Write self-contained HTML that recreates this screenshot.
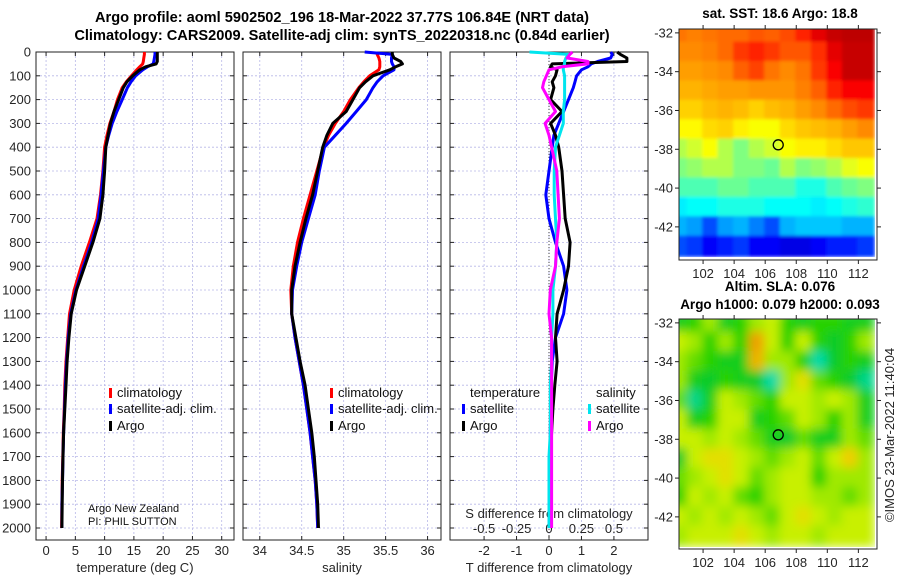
<!DOCTYPE html>
<html><head><meta charset="utf-8">
<style>
html,body{margin:0;padding:0;background:#fff;}
svg{display:block;font-family:"Liberation Sans",sans-serif;}
</style></head>
<body>
<svg id="chart" width="900" height="580" viewBox="0 0 900 580" xmlns="http://www.w3.org/2000/svg">
<defs>
<filter id="blurS" x="0" y="0" width="1" height="1"><feGaussianBlur stdDeviation="1.5"/></filter>
<filter id="blurL" x="0" y="0" width="1" height="1"><feGaussianBlur stdDeviation="5"/></filter>
<clipPath id="clipTop"><rect x="679" y="29" width="198" height="231"/></clipPath>
<clipPath id="clipBot"><rect x="679" y="319" width="198" height="230"/></clipPath>
</defs>
<text x="342" y="22" text-anchor="middle" font-size="14.6" font-weight="bold">Argo profile: aoml 5902502_196 18-Mar-2022 37.77S 106.84E (NRT data)</text>
<text x="342" y="40" text-anchor="middle" font-size="14.6" font-weight="bold">Climatology: CARS2009. Satellite-adj clim: synTS_20220318.nc (0.84d earlier)</text>
</svg>
<script>
// ---- data ----
const depths = [0,10,25,40,50,62,75,100,125,150,200,250,300,350,400,500,600,700,800,900,1000,1100,1200,1300,1400,1500,1600,1700,1800,1900,2000];
const tempArgo = [19.0,19.0,19.0,19.0,18.8,17.0,16.0,14.8,13.8,13.2,12.4,11.6,11.0,10.6,10.2,10.0,9.7,9.2,8.0,6.6,5.2,4.3,3.9,3.6,3.4,3.2,3.0,2.9,2.8,2.75,2.7];
const tempClim = [16.8,16.8,16.7,16.6,16.5,16.0,15.5,14.6,13.7,13.0,12.2,11.6,10.9,10.4,10.0,9.7,9.3,8.7,7.4,6.0,4.8,4.0,3.7,3.4,3.2,3.1,2.95,2.85,2.75,2.7,2.65];
const tempSat = [18.6,18.6,18.5,18.4,18.3,17.3,16.5,15.3,14.5,13.9,13.0,12.1,11.3,10.7,10.2,9.8,9.4,8.9,7.8,6.4,5.1,4.2,3.8,3.5,3.3,3.15,3.0,2.9,2.8,2.7,2.7];
const salArgo = [35.58,35.58,35.60,35.68,35.70,35.62,35.55,35.35,35.26,35.19,35.11,35.03,34.87,34.80,34.75,34.69,34.63,34.55,34.48,34.42,34.38,34.38,34.43,34.48,34.54,34.58,34.62,34.65,34.67,34.69,34.70];
const salClim = [35.40,35.40,35.42,35.43,35.43,35.43,35.42,35.31,35.24,35.18,35.08,35.00,34.90,34.82,34.76,34.68,34.60,34.52,34.45,34.40,34.37,34.38,34.42,34.47,34.52,34.56,34.60,34.63,34.66,34.68,34.69];
const salSat = [35.25,35.58,35.57,35.57,35.58,35.60,35.60,35.47,35.40,35.35,35.27,35.15,35.03,34.90,34.77,34.71,34.66,34.58,34.50,34.44,34.39,34.38,34.42,34.47,34.52,34.56,34.60,34.63,34.66,34.68,34.69];
const tDiffSat = [1.9,1.95,1.9,1.5,1.3,1.2,1.0,0.85,0.8,0.75,0.6,0.45,0.3,0.15,0.1,0.0,-0.1,0.0,0.2,0.45,0.55,0.45,0.2,0.1,0.07,0.05,0.04,0.03,0.03,0.02,0.02];
const tDiffArgo = [2.1,2.2,2.4,2.4,0.1,0.05,0.25,0.2,0.1,0.15,0.05,0.4,0.05,0.2,0.3,0.4,0.45,0.5,0.65,0.6,0.45,0.25,0.2,0.25,0.18,0.12,0.08,0.05,0.04,0.03,0.03];
const sDiffSat = [-0.15,0.15,0.13,0.12,0.12,0.11,0.11,0.12,0.12,0.12,0.12,0.11,0.11,0.08,0.05,0.04,0.04,0.05,0.06,0.05,0.03,0.03,0.02,0.02,0.01,0.01,0.01,0.0,0.0,0.0,0.0];
const sDiffArgo = [0.18,0.16,0.14,0.3,0.3,0.1,0.0,-0.02,-0.04,-0.05,0.0,0.05,-0.03,0.0,0.02,0.06,0.07,0.08,0.06,0.05,0.01,0.0,0.02,0.02,0.02,0.02,0.02,0.02,0.02,0.02,0.02];
const depthTicks = [0,100,200,300,400,500,600,700,800,900,1000,1100,1200,1300,1400,1500,1600,1700,1800,1900,2000];
const tempTicks = [0,5,10,15,20,25,30];
const salTicks = [34,34.5,35,35.5,36];
const tDiffTicks = [-2,-1,0,1,2];
const sDiffTicks = [-0.5,-0.25,0,0.25,0.5];
const lonTicks = [102,104,106,108,110,112];
const latTicks = [-32,-34,-36,-38,-40,-42];
const floatLon = 106.84, floatLat = -37.77;
const sstGrid = [
[0.76,0.75,0.76,0.77,0.77,0.79,0.78,0.80,0.84,0.90,0.93,0.94,0.94],
[0.74,0.74,0.75,0.77,0.82,0.84,0.82,0.79,0.79,0.83,0.90,0.93,0.93],
[0.72,0.72,0.73,0.74,0.78,0.81,0.76,0.74,0.76,0.82,0.88,0.93,0.93],
[0.70,0.70,0.71,0.72,0.72,0.73,0.73,0.73,0.75,0.78,0.84,0.88,0.88],
[0.67,0.67,0.69,0.70,0.69,0.67,0.69,0.70,0.72,0.74,0.77,0.80,0.82],
[0.63,0.63,0.66,0.67,0.64,0.62,0.62,0.66,0.68,0.69,0.70,0.72,0.74],
[0.55,0.58,0.62,0.55,0.50,0.55,0.58,0.62,0.64,0.64,0.66,0.68,0.68],
[0.50,0.52,0.55,0.55,0.50,0.50,0.48,0.55,0.50,0.52,0.55,0.60,0.62],
[0.45,0.45,0.45,0.48,0.48,0.45,0.45,0.45,0.40,0.40,0.45,0.48,0.50],
[0.36,0.38,0.38,0.40,0.40,0.40,0.38,0.38,0.38,0.36,0.38,0.40,0.42],
[0.30,0.28,0.20,0.28,0.30,0.25,0.20,0.30,0.32,0.32,0.32,0.30,0.30],
[0.20,0.18,0.12,0.15,0.18,0.12,0.12,0.10,0.10,0.12,0.15,0.15,0.18]];
const slaGrid = [
[0.49,0.52,0.58,0.49,0.52,0.58,0.60,0.52,0.49,0.52,0.52,0.49,0.49],
[0.60,0.58,0.52,0.58,0.52,0.72,0.60,0.52,0.60,0.52,0.47,0.52,0.58],
[0.58,0.55,0.52,0.49,0.49,0.70,0.58,0.58,0.52,0.38,0.47,0.52,0.49],
[0.58,0.49,0.47,0.52,0.49,0.47,0.38,0.58,0.64,0.55,0.52,0.47,0.40],
[0.55,0.40,0.49,0.60,0.58,0.55,0.52,0.60,0.60,0.58,0.60,0.58,0.49],
[0.60,0.49,0.52,0.60,0.60,0.49,0.52,0.55,0.60,0.58,0.52,0.58,0.49],
[0.60,0.60,0.58,0.60,0.58,0.55,0.49,0.47,0.55,0.49,0.49,0.58,0.55],
[0.47,0.60,0.64,0.64,0.60,0.58,0.55,0.58,0.60,0.55,0.60,0.67,0.58],
[0.55,0.58,0.60,0.64,0.60,0.55,0.58,0.60,0.60,0.52,0.58,0.58,0.58],
[0.52,0.60,0.58,0.60,0.55,0.52,0.58,0.60,0.60,0.58,0.58,0.55,0.58],
[0.60,0.58,0.60,0.58,0.60,0.58,0.55,0.60,0.64,0.60,0.58,0.60,0.60],
[0.58,0.60,0.60,0.60,0.64,0.60,0.58,0.60,0.60,0.58,0.60,0.60,0.60]];

const NS='http://www.w3.org/2000/svg';
const svg=document.getElementById('chart');
function mk(tag,attrs,parent){const e=document.createElementNS(NS,tag);for(const k in attrs)e.setAttribute(k,attrs[k]);(parent||svg).appendChild(e);return e;}
const TOP=52, BOT=540;
const yD = d => TOP + d*0.238;

function panel(name,x0,x1,xmin,xmax,ticks,fmt,xlabel,showY){
  const sx = v => x0 + (v-xmin)/(xmax-xmin)*(x1-x0);
  const g=mk('g',{});
  
  
  ticks.forEach(t=>{const l=mk('line',{x1:sx(t),x2:sx(t),y1:TOP,y2:BOT,stroke:'#b8b8e8','stroke-width':0.8,'stroke-dasharray':'2,2'},g);
    });
  depthTicks.forEach(d=>{const l=mk('line',{x1:x0,x2:x1,y1:yD(d),y2:yD(d),stroke:'#b8b8e8','stroke-width':0.8,'stroke-dasharray':'2,2'},g);
    });
  ticks.forEach(t=>{mk('line',{x1:sx(t),x2:sx(t),y1:BOT,y2:BOT-4,stroke:'#222'},g);mk('line',{x1:sx(t),x2:sx(t),y1:TOP,y2:TOP+4,stroke:'#222'},g);
    if(fmt){const tx=mk('text',{x:sx(t),y:555,'text-anchor':'middle','font-size':13,fill:'#262626'},g);tx.textContent=fmt(t);
    }});
  depthTicks.forEach(d=>{mk('line',{x1:x0,x2:x0+4,y1:yD(d),y2:yD(d),stroke:'#222'},g);mk('line',{x1:x1,x2:x1-4,y1:yD(d),y2:yD(d),stroke:'#222'},g);
    if(showY){const tx=mk('text',{x:31,y:yD(d)+4.5,'text-anchor':'end','font-size':13,fill:'#262626'},g);tx.textContent=d;
    }});
  const fr=mk('rect',{x:x0,y:TOP,width:x1-x0,height:BOT-TOP,fill:'none',stroke:'#222','stroke-width':1},g);
  
  if(xlabel){const tx=mk('text',{x:(x0+x1)/2,y:572,'text-anchor':'middle','font-size':13,fill:'#262626'},g);tx.textContent=xlabel;
    }
  return sx;
}
function line(sx,vals,color,w,name){
  const pts=vals.map((v,i)=>sx(v).toFixed(1)+','+yD(depths[i]).toFixed(1)).join(' ');
  const p=mk('polyline',{points:pts,fill:'none',stroke:color,'stroke-width':w,'stroke-linejoin':'round'});
  
  
}
function legend(x,y,color,label,name){
  const r=mk('rect',{x:x,y:y-9,width:3,height:10,fill:color});
  
  const t=mk('text',{x:x+8,y:y,'font-size':13,fill:'#111'});t.textContent=label;
  
}

const sxT=panel('temperature',36,234,-1.72,32.1,tempTicks,t=>t,'temperature (deg C)',true);
line(sxT,tempClim,'#ff0000',3,'temperature-climatology-line');
line(sxT,tempSat,'#0000ff',3,'temperature-satellite-line');
line(sxT,tempArgo,'#000000',3,'temperature-argo-line');
legend(109,397,'#ff0000','climatology','climatology');
legend(109,413,'#0000ff','satellite-adj. clim.','satellite-adj');
legend(109,430,'#000000','Argo','argo');
let t1=mk('text',{x:88,y:512,'font-size':11,fill:'#111'});t1.textContent='Argo New Zealand';

let t2=mk('text',{x:88,y:525,'font-size':11,fill:'#111'});t2.textContent='PI: PHIL SUTTON';


const sxS=panel('salinity',243,441,33.8,36.16,salTicks,t=>t,'salinity',false);
line(sxS,salClim,'#ff0000',3,'salinity-climatology-line');
line(sxS,salSat,'#0000ff',3,'salinity-satellite-line');
line(sxS,salArgo,'#000000',3,'salinity-argo-line');
legend(330,397,'#ff0000','climatology','sal-climatology');
legend(330,413,'#0000ff','satellite-adj. clim.','sal-satellite-adj');
legend(330,430,'#000000','Argo','sal-argo');

const sxD=panel('difference',450,648,-3.05,3.05,tDiffTicks,t=>t,'T difference from climatology',false);
const sxSd = v => sxD(v*4);
const zl=mk('line',{x1:sxD(0),x2:sxD(0),y1:TOP,y2:BOT,stroke:'#444','stroke-width':1,'stroke-dasharray':'1,2'});

sDiffTicks.forEach(t=>{const tx=mk('text',{x:sxSd(t),y:533,'text-anchor':'middle','font-size':13,fill:'#262626'});tx.textContent=t;
  });
let sl=mk('text',{x:549,y:518,'text-anchor':'middle','font-size':13,fill:'#262626'});sl.textContent='S difference from climatology';

line(sxD,tDiffSat,'#0000ff',3,'t-diff-satellite-line');
line(sxD,tDiffArgo,'#000000',3,'t-diff-argo-line');
line(sxSd,sDiffSat,'#00e5ee',3,'s-diff-satellite-line');
line(sxSd,sDiffArgo,'#ff00ff',3,'s-diff-argo-line');
let lt=mk('text',{x:470,y:397,'font-size':13,fill:'#111'});lt.textContent='temperature';

legend(462,413,'#0000ff','satellite','t-diff-satellite');
legend(462,430,'#000000','Argo','t-diff-argo');
let ls=mk('text',{x:596,y:397,'font-size':13,fill:'#111'});ls.textContent='salinity';

legend(588,413,'#00e5ee','satellite','s-diff-satellite');
legend(588,430,'#ff00ff','Argo','s-diff-argo');

function jet(v){const c=x=>Math.round(255*Math.max(0,Math.min(1,x)));
  return 'rgb('+c(1.5-Math.abs(4*v-3))+','+c(1.5-Math.abs(4*v-2))+','+c(1.5-Math.abs(4*v-1))+')';}
const slaStops=[[0.35,[0,225,215]],[0.45,[0,200,60]],[0.52,[40,210,0]],[0.6,[200,240,0]],[0.66,[240,215,0]],[0.74,[240,140,0]]];
function slaCmap(v){
  if(v<=slaStops[0][0])return 'rgb('+slaStops[0][1].join(',')+')';
  for(let i=1;i<slaStops.length;i++){const a=slaStops[i-1],b=slaStops[i];
    if(v<=b[0]){const f=(v-a[0])/(b[0]-a[0]);return 'rgb('+a[1].map((c,k)=>Math.round(c+(b[1][k]-c)*f)).join(',')+')';}}
  return 'rgb('+slaStops[slaStops.length-1][1].join(',')+')';
}
function map(name,y0,y1,grid,filter,cmap,title1,title2){
  const x0=679,x1=877,lonMin=100.45,lonMax=113.2,latTop=-31.8;
  const px=(x1-x0)/(lonMax-lonMin), py=19.4;
  const sx=lon=>x0+(lon-lonMin)*px, sy=lat=>y0+(latTop-lat)*py;
  const g=mk('g',{'clip-path':'url(#'+(y0===29?'clipTop':'clipBot')+')'});
  
  const gi=mk('g',{filter:'url(#'+filter+')'},g);
  grid.forEach((row,r)=>row.forEach((v,c)=>{
    const lon=100.5+c, lat=-32-r;
    const cell=mk('rect',{x:sx(lon-0.5)-1,y:sy(lat+0.5)-1,width:px+2,height:py+2,fill:cmap(v)},gi);
    
  }));
  const fr=mk('rect',{x:x0,y:y0,width:x1-x0,height:y1-y0,fill:'none',stroke:'#222'});
  
  lonTicks.forEach(l=>{mk('line',{x1:sx(l),x2:sx(l),y1:y1,y2:y1+4,stroke:'#222'});mk('line',{x1:sx(l),x2:sx(l),y1:y0,y2:y0-4,stroke:'#222'});
    const t=mk('text',{x:sx(l),y:y1+18,'text-anchor':'middle','font-size':13,fill:'#262626'});t.textContent=l;
    });
  latTicks.forEach(l=>{mk('line',{x1:x0,x2:x0-4,y1:sy(l),y2:sy(l),stroke:'#222'});mk('line',{x1:x1,x2:x1+4,y1:sy(l),y2:sy(l),stroke:'#222'});
    const t=mk('text',{x:x0-6,y:sy(l)+4.5,'text-anchor':'end','font-size':13,fill:'#262626'});t.textContent=l;
    });
  const c=mk('circle',{cx:sx(floatLon),cy:sy(floatLat),r:5,fill:'none',stroke:'#000','stroke-width':1.3});
  
  const a=mk('text',{x:780,y:y0-(title2?28:11),'text-anchor':'middle','font-size':13.5,'font-weight':'bold'});a.textContent=title1;
  
  if(title2){const b=mk('text',{x:780,y:y0-10,'text-anchor':'middle','font-size':13.5,'font-weight':'bold'});b.textContent=title2;
    }
}
map('sst',29,260,sstGrid,'blurS',jet,'sat. SST: 18.6 Argo: 18.8',null);
map('sla',319,549,slaGrid,'blurL',slaCmap,'Altim. SLA: 0.076','Argo h1000: 0.079 h2000: 0.093');
const cp=mk('text',{x:0,y:0,'text-anchor':'middle','font-size':13,fill:'#262626',transform:'translate(894,435) rotate(-90)'});
cp.textContent='©IMOS 23-Mar-2022 11:40:04';


</script>
</body></html>
